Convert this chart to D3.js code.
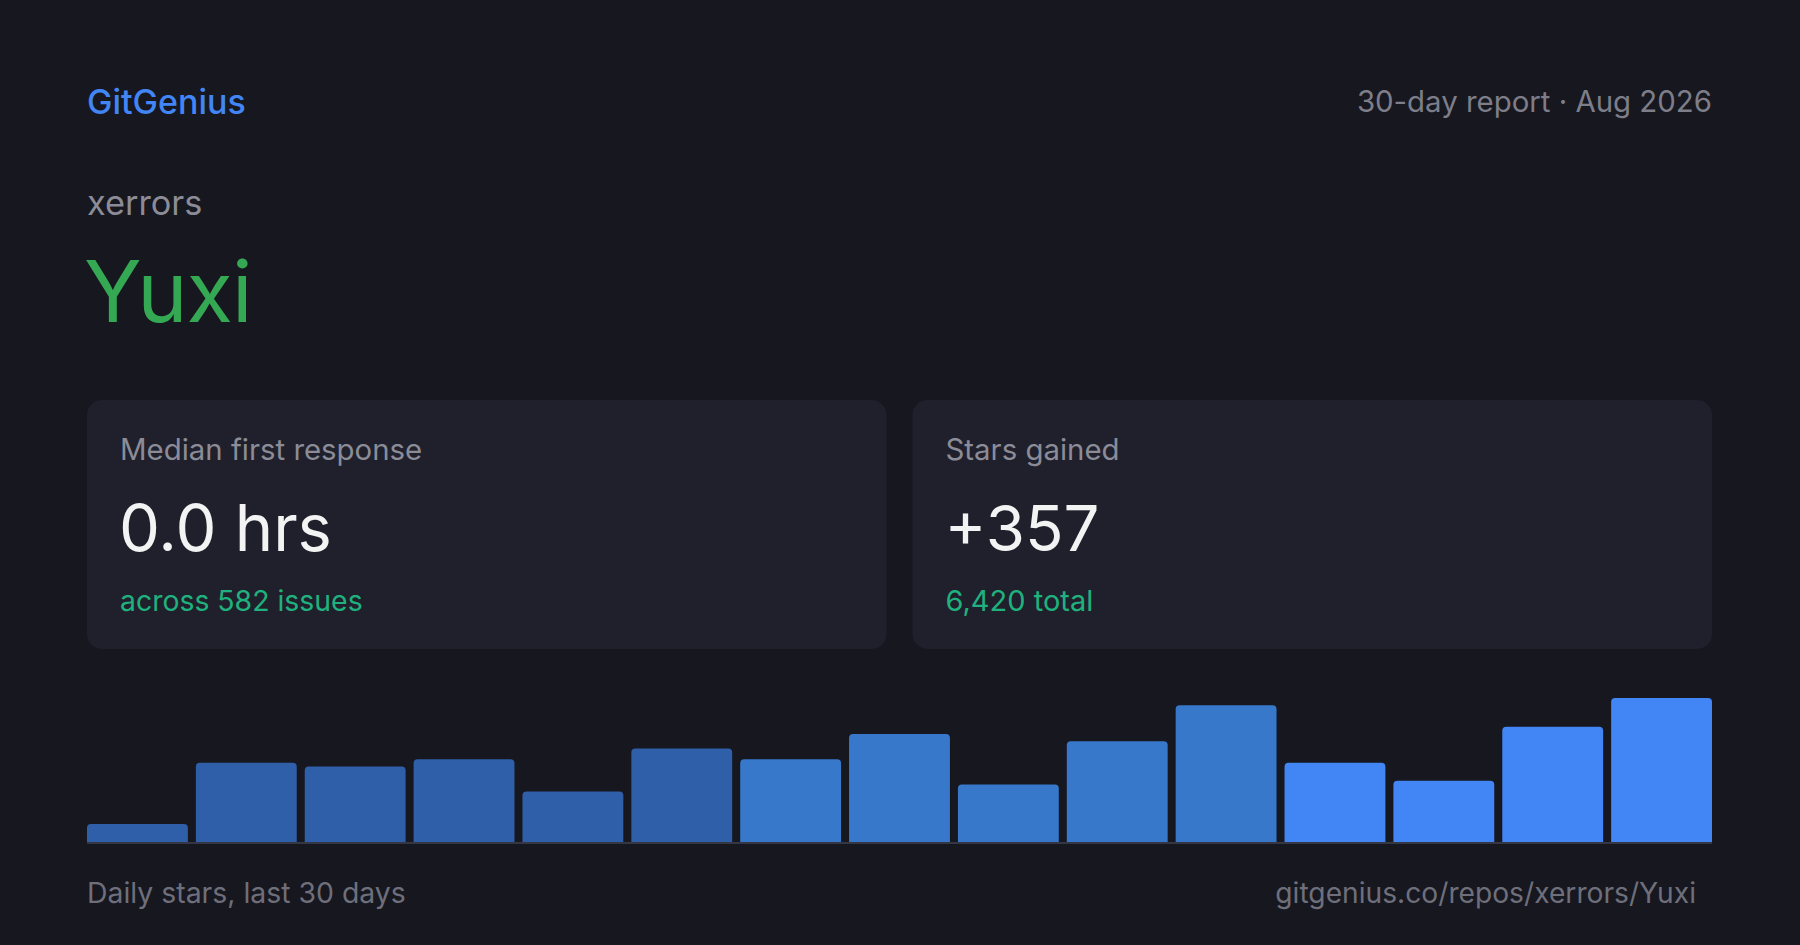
<!DOCTYPE html>
<html>
<head>
<meta charset="utf-8">
<script src="https://cdn.jsdelivr.net/npm/d3@7"></script>
<style>
  html, body { margin: 0; padding: 0; background: #16171f; }
  svg { display: block; }
  text { font-family: Inter, "Noto Sans", sans-serif; }
</style>
</head>
<body>
<svg id="chart" width="1800" height="945"></svg>
<script>
// ---- data ----
const brand = "GitGenius";
const reportLabel = "30-day report · Aug 2026";
const owner = "xerrors";
const repo = "Yuxi";
const cardLabels = ["Median first response", "Stars gained"];
const cardValues = ["0.0 hrs", "+357"];
const cardNotes = ["across 582 issues", "6,420 total"];
const binLabels = ["1-2","3-4","5-6","7-8","9-10","11-12","13-14","15-16","17-18","19-20","21-22","23-24","25-26","27-28","29-30"];
const binStars = [5, 22, 21, 23, 14, 26, 23, 30, 16, 28, 38, 22, 17, 32, 40];
const footerLeft = "Daily stars, last 30 days";
const footerRight = "gitgenius.co/repos/xerrors/Yuxi";

// ---- drawing ----
const W = 1800, H = 945;
const padL = 87, padR = 88;
const svg = d3.select("#chart");

svg.append("rect").attr("width", W).attr("height", H).attr("fill", "#16171f");

// header
svg.append("text").attr("x", padL).attr("y", 114)
  .attr("font-size", 34).attr("font-weight", 500).attr("fill", "#4285f4").text(brand);
svg.append("text").attr("x", W - padR).attr("y", 112).attr("text-anchor", "end")
  .attr("font-size", 29.4).attr("fill", "#7d7e89").text(reportLabel);

svg.append("text").attr("x", padL).attr("y", 215)
  .attr("font-size", 34.3).attr("fill", "#8b8c97").text(owner);
svg.append("text").attr("x", padL - 3).attr("y", 322)
  .attr("font-size", 85).attr("fill", "#34a853").attr("letter-spacing", "-1").text(repo);

// cards
const cardGap = 26;
const cardTop = 400, cardH = 249;
const cardX = d3.scaleBand().domain(d3.range(cardLabels.length))
  .range([padL, W - padR]).paddingInner(cardGap / ((W - padL - padR + cardGap) / cardLabels.length)).paddingOuter(0);

const cards = svg.selectAll("g.card").data(cardLabels.map((l, i) => ({ label: l, value: cardValues[i], note: cardNotes[i], i })))
  .join("g").attr("class", "card")
  .attr("transform", d => `translate(${cardX(d.i)},${cardTop})`);

cards.append("rect").attr("width", cardX.bandwidth()).attr("height", cardH)
  .attr("rx", 15).attr("fill", "#1f202b");
cards.append("text").attr("x", 33).attr("y", 60)
  .attr("font-size", 29.4).attr("fill", "#8b8c97").text(d => d.label);
cards.append("text").attr("x", 32).attr("y", 151)
  .attr("font-size", d => d.i === 0 ? 65 : 63.5).attr("fill", "#f3f3f3").text(d => d.value);
cards.append("text").attr("x", 33).attr("y", 211)
  .attr("font-size", d => d.i === 0 ? 28.4 : 29).attr("fill", "#1fb27e").text(d => d.note);

// bars
const chartTop = 698, chartBottom = 842;
const barGap = 8;
const n = binStars.length;
const x = d3.scaleBand().domain(binLabels)
  .range([padL, W - padR])
  .paddingInner(barGap / ((W - padL - padR + barGap) / n))
  .paddingOuter(0);
const y = d3.scaleLinear().domain([0, d3.max(binStars)]).range([chartBottom, chartTop]);
const color = d3.scaleThreshold().domain([6, 11]).range(["#2f5fa9", "#3778cb", "#4285f4"]);

function topRounded(x0, y0, w, h, r) {
  r = Math.min(r, h, w / 2);
  const p = d3.path();
  p.moveTo(x0, y0 + h);
  p.lineTo(x0, y0 + r);
  p.arcTo(x0, y0, x0 + r, y0, r);
  p.lineTo(x0 + w - r, y0);
  p.arcTo(x0 + w, y0, x0 + w, y0 + r, r);
  p.lineTo(x0 + w, y0 + h);
  p.closePath();
  return p.toString();
}

svg.append("g").selectAll("path").data(binStars)
  .join("path")
  .attr("d", (d, i) => topRounded(x(binLabels[i]), y(d), x.bandwidth(), chartBottom - y(d), 4))
  .attr("fill", (d, i) => color(i));

svg.append("line").attr("x1", padL).attr("x2", W - padR)
  .attr("y1", chartBottom + 1).attr("y2", chartBottom + 1)
  .attr("stroke", "#353643").attr("stroke-width", 2);

// footer
svg.append("text").attr("x", padL).attr("y", 903)
  .attr("font-size", 28.4).attr("fill", "#6e6f7b").text(footerLeft);
svg.append("text").attr("x", 1696).attr("y", 903).attr("text-anchor", "end")
  .attr("font-size", 28.2).attr("fill", "#6e6f7b").text(footerRight);
</script>
</body>
</html>
